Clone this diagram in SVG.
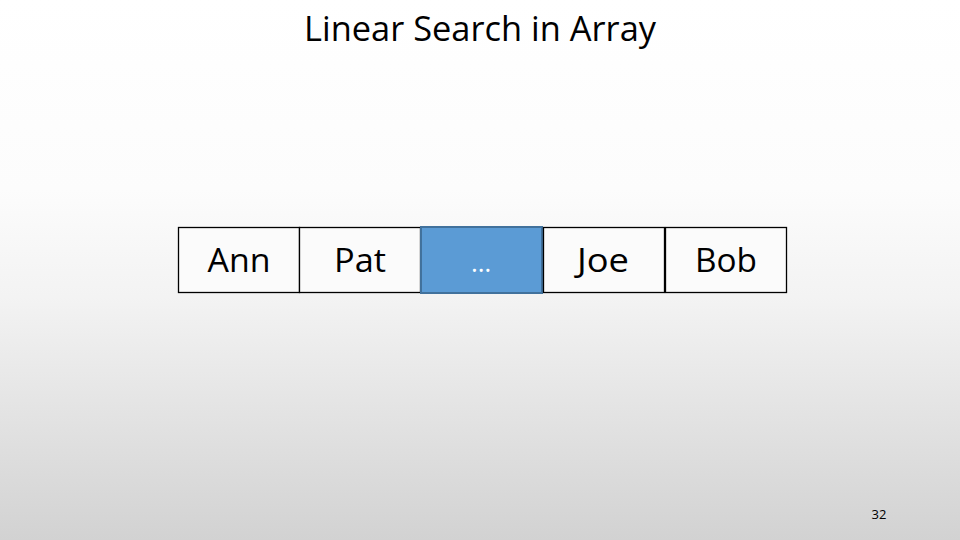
<svg xmlns="http://www.w3.org/2000/svg" width="960" height="540" viewBox="0 0 960 540">
<defs>
<linearGradient id="bg" x1="0" y1="0" x2="0" y2="1">
<stop offset="0" stop-color="#ffffff"/>
<stop offset="0.35" stop-color="#fcfcfc"/>
<stop offset="0.55" stop-color="#f3f3f3"/>
<stop offset="1" stop-color="#d2d2d2"/>
</linearGradient>
<style>
.cell{fill:#fbfbfb;stroke:#000;stroke-width:1.3}
.hl{fill:#5b9bd5;stroke:#41719c;stroke-width:2}
.lbl{font-family:"Open Sans","Liberation Sans",sans-serif;font-size:32px;fill:#000;text-anchor:middle}
.title{font-family:"Open Sans","Liberation Sans",sans-serif;font-size:34px;fill:#000;text-anchor:middle}
.num{font-family:"Open Sans","Liberation Sans",sans-serif;font-size:13px;fill:#000;text-anchor:middle}
</style>
</defs>
<rect x="0" y="0" width="960" height="540" fill="url(#bg)"/>
<text class="title" x="480" y="41" textLength="352" lengthAdjust="spacingAndGlyphs">Linear Search in Array</text>
<g id="connectors"></g>
<g id="node-ann"><rect class="cell" x="178.5" y="227.5" width="121" height="65"/><text class="lbl" x="239" y="272" textLength="63" lengthAdjust="spacingAndGlyphs">Ann</text></g>
<g id="node-pat"><rect class="cell" x="299.5" y="227.5" width="121" height="65"/><text class="lbl" x="360" y="272" textLength="52" lengthAdjust="spacingAndGlyphs">Pat</text></g>
<g id="node-dots"><rect class="hl" x="421" y="227" width="121" height="66"/><text x="481" y="272" font-family="Open Sans, Liberation Sans, sans-serif" font-size="26" fill="#ffffff" text-anchor="middle">…</text></g>
<g id="node-joe"><rect class="cell" x="543.5" y="227.5" width="121" height="65"/><text class="lbl" x="603" y="272" textLength="52" lengthAdjust="spacingAndGlyphs">Joe</text></g>
<g id="node-bob"><rect class="cell" x="665.5" y="227.5" width="121" height="65"/><text class="lbl" x="726" y="272" textLength="62" lengthAdjust="spacingAndGlyphs">Bob</text></g>
<text class="num" x="879" y="519">32</text>
</svg>
